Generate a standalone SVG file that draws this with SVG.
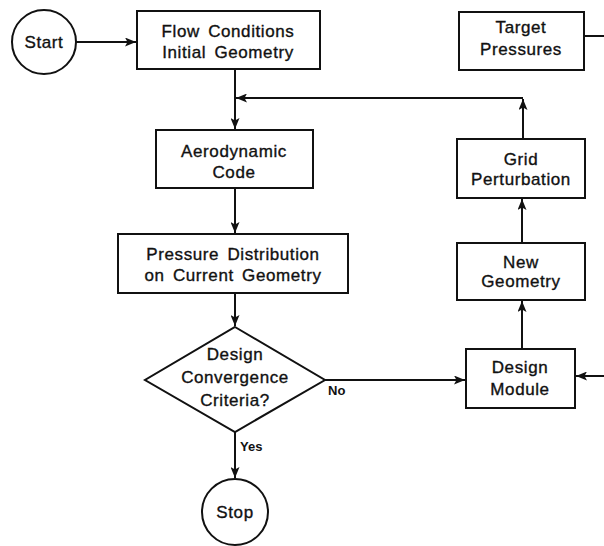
<svg xmlns="http://www.w3.org/2000/svg" width="604" height="546" viewBox="0 0 604 546">
<style>
.box{fill:#fff;stroke:#111;stroke-width:2}
.t{font-family:"Liberation Sans",Arial,sans-serif;font-size:17px;fill:#111;stroke:#111;stroke-width:0.35px;text-anchor:middle;letter-spacing:0.6px;word-spacing:3px}
.lbl{font-family:"Liberation Sans",Arial,sans-serif;font-size:13px;font-weight:bold;fill:#111}
.c{fill:none;stroke:#111;stroke-width:2}
</style>
<defs>
<marker id="ah" viewBox="0 0 11 9" refX="11" refY="4.5" markerWidth="11" markerHeight="9" markerUnits="userSpaceOnUse" orient="auto">
<path d="M0,0 L11,4.5 L0,9 L2.5,4.5 Z" fill="#111"/>
</marker>
</defs>
<rect width="604" height="546" fill="#fff"/>
<g id="connectors">
<path class="c" d="M76,42 H136" marker-end="url(#ah)"/>
<path class="c" d="M235,69 V129" marker-end="url(#ah)"/>
<path class="c" d="M523,98 H236" marker-end="url(#ah)"/>
<path class="c" d="M523,139 V99" marker-end="url(#ah)"/>
<path class="c" d="M235,188 V233" marker-end="url(#ah)"/>
<path class="c" d="M235,293 V326" marker-end="url(#ah)"/>
<path class="c" d="M235,432 V478" marker-end="url(#ah)"/>
<path class="c" d="M325,380 H465" marker-end="url(#ah)"/>
<path class="c" d="M522,349 V301" marker-end="url(#ah)"/>
<path class="c" d="M522,243 V199" marker-end="url(#ah)"/>
<path class="c" d="M584,36 H604"/>
<path class="c" d="M604,376 H576" marker-end="url(#ah)"/>
<text class="lbl" x="240" y="451">Yes</text>
<text class="lbl" x="328" y="395">No</text>
</g>
<g id="start">
<circle class="box" cx="44" cy="42" r="32"/>
<text class="t" x="44" y="48">Start</text>
</g>
<g id="flow">
<rect class="box" x="137" y="11" width="183" height="58"/>
<text class="t" x="228" y="37">Flow Conditions</text>
<text class="t" x="228" y="58">Initial Geometry</text>
</g>
<g id="target">
<rect class="box" x="459" y="12" width="125" height="58"/>
<text class="t" x="521" y="33">Target</text>
<text class="t" x="521" y="55">Pressures</text>
</g>
<g id="aero">
<rect class="box" x="156" y="130" width="157" height="58"/>
<text class="t" x="234" y="157">Aerodynamic</text>
<text class="t" x="234" y="178">Code</text>
</g>
<g id="pressure">
<rect class="box" x="118" y="234" width="230" height="59"/>
<text class="t" x="233" y="260">Pressure Distribution</text>
<text class="t" x="233" y="281">on Current Geometry</text>
</g>
<g id="grid">
<rect class="box" x="457" y="139" width="128" height="59"/>
<text class="t" x="521" y="165">Grid</text>
<text class="t" x="521" y="185">Perturbation</text>
</g>
<g id="newgeom">
<rect class="box" x="457" y="243" width="128" height="57"/>
<text class="t" x="521" y="268">New</text>
<text class="t" x="521" y="287">Geometry</text>
</g>
<g id="decision">
<polygon class="box" points="235,327 325,380 235,432 145,380"/>
<text class="t" x="235" y="360">Design</text>
<text class="t" x="235" y="383">Convergence</text>
<text class="t" x="235" y="406">Criteria?</text>
</g>
<g id="designmodule">
<rect class="box" x="466" y="349" width="109" height="59"/>
<text class="t" x="520" y="373">Design</text>
<text class="t" x="520" y="395">Module</text>
</g>
<g id="stop">
<circle class="box" cx="235" cy="512" r="33"/>
<text class="t" x="235" y="518">Stop</text>
</g>
</svg>
